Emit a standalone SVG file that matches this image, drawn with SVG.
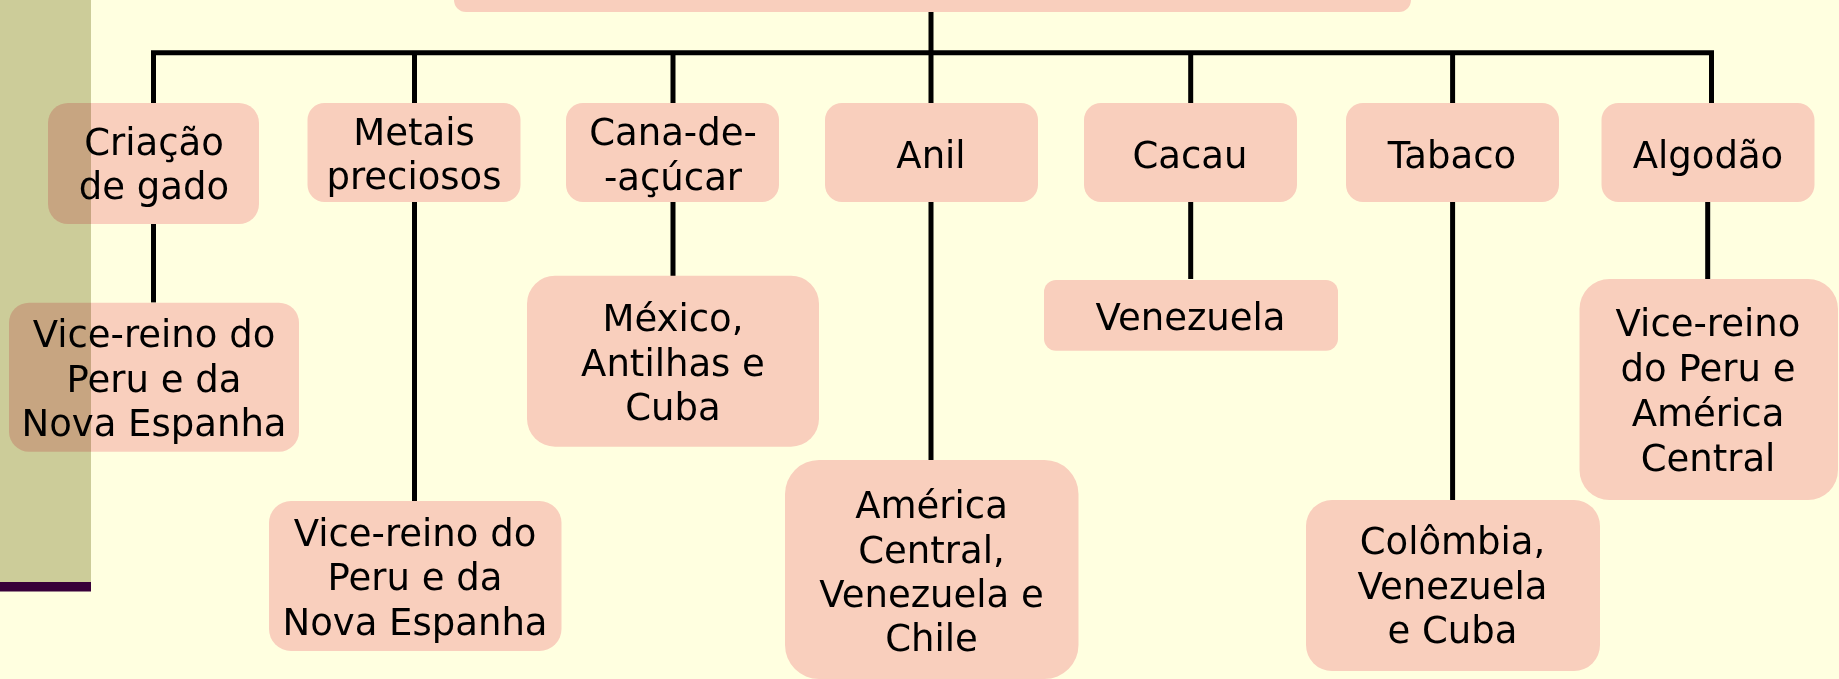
<svg xmlns="http://www.w3.org/2000/svg" width="1839" height="679" viewBox="0 0 1839 679">
<style>
.bg{fill:#FFFFE0}
.box{fill:#F9CFBD}
.lbl{font-family:"DejaVu Sans",Verdana,sans-serif;font-size:37px;fill:#000;text-anchor:middle}
.conn{stroke:#000;stroke-width:5;fill:none;stroke-linecap:butt;stroke-linejoin:miter}
.band{fill:#CCCCAE;mix-blend-mode:multiply}
</style>
<rect class="bg" x="0" y="0" width="1839" height="679"/>
<g id="connectors">
<path class="conn" d="M153.5,103 V52.7 H1711.5 V103"/>
<path class="conn" d="M931,12 V103"/>
<path class="conn" d="M414.5,52.7 V103"/>
<path class="conn" d="M673,52.7 V103"/>
<path class="conn" d="M1190.7,52.7 V103"/>
<path class="conn" d="M1452.6,52.7 V103"/>
<path class="conn" d="M153.5,224 V302.5"/>
<path class="conn" d="M414.5,202 V501"/>
<path class="conn" d="M673,202 V276"/>
<path class="conn" d="M931,202 V460"/>
<path class="conn" d="M1190.7,202 V279"/>
<path class="conn" d="M1452.6,202 V500"/>
<path class="conn" d="M1707.7,202 V279"/>
</g>
<g id="root"><rect class="box" x="454" y="-40" width="957" height="52" rx="12"/></g>
<g id="n-gado"><rect class="box" x="48" y="103" width="211" height="121" rx="20"/>
<text class="lbl" x="154" y="155">Criação</text><text class="lbl" x="154" y="199">de gado</text></g>
<g id="n-metais"><rect class="box" x="307.5" y="103" width="213" height="99" rx="17"/>
<text class="lbl" x="414" y="145">Metais</text><text class="lbl" x="414" y="189">preciosos</text></g>
<g id="n-cana"><rect class="box" x="566" y="103" width="213" height="99" rx="17"/>
<text class="lbl" x="673" y="145">Cana-de-</text><text class="lbl" x="673" y="190">-açúcar</text></g>
<g id="n-anil"><rect class="box" x="825" y="103" width="213" height="99" rx="17"/>
<text class="lbl" x="931" y="168">Anil</text></g>
<g id="n-cacau"><rect class="box" x="1084" y="103" width="213" height="99" rx="17"/>
<text class="lbl" x="1190" y="168">Cacau</text></g>
<g id="n-tabaco"><rect class="box" x="1346" y="103" width="213" height="99" rx="17"/>
<text class="lbl" x="1452" y="168">Tabaco</text></g>
<g id="n-algodao"><rect class="box" x="1601.5" y="103" width="213" height="99" rx="17"/>
<text class="lbl" x="1708" y="168">Algodão</text></g>
<g id="c-gado"><rect class="box" x="9" y="302.7" width="290" height="149" rx="20"/>
<text class="lbl" x="154" y="347">Vice-reino do</text><text class="lbl" x="154" y="391.5">Peru e da</text><text class="lbl" x="154" y="436">Nova Espanha</text></g>
<g id="c-metais"><rect class="box" x="269" y="501" width="292.5" height="150" rx="22"/>
<text class="lbl" x="415" y="545.7">Vice-reino do</text><text class="lbl" x="415" y="590">Peru e da</text><text class="lbl" x="415" y="635">Nova Espanha</text></g>
<g id="c-cana"><rect class="box" x="527" y="275.7" width="292" height="171" rx="28"/>
<text class="lbl" x="673" y="330.7">México,</text><text class="lbl" x="673" y="375.5">Antilhas e</text><text class="lbl" x="673" y="420">Cuba</text></g>
<g id="c-anil"><rect class="box" x="785" y="460" width="293.5" height="219" rx="34"/>
<text class="lbl" x="931.5" y="517.7">América</text><text class="lbl" x="931.5" y="562.5">Central,</text><text class="lbl" x="931.5" y="606.7">Venezuela e</text><text class="lbl" x="931.5" y="651">Chile</text></g>
<g id="c-cacau"><rect class="box" x="1044" y="280" width="294" height="70.7" rx="12"/>
<text class="lbl" x="1190.5" y="330">Venezuela</text></g>
<g id="c-tabaco"><rect class="box" x="1306" y="500" width="294" height="171" rx="26"/>
<text class="lbl" x="1452.5" y="554.3">Colômbia,</text><text class="lbl" x="1452.5" y="599">Venezuela</text><text class="lbl" x="1452.5" y="643.3">e Cuba</text></g>
<g id="c-algodao"><rect class="box" x="1579.5" y="279" width="258.5" height="221" rx="30"/>
<text class="lbl" x="1708" y="336">Vice-reino</text><text class="lbl" x="1708" y="380.7">do Peru e</text><text class="lbl" x="1708" y="425.7">América</text><text class="lbl" x="1708" y="470.7">Central</text></g>
<rect class="band" x="0" y="0" width="91" height="582"/>
<rect x="0" y="582" width="91" height="9.5" fill="#38003A"/>
</svg>
